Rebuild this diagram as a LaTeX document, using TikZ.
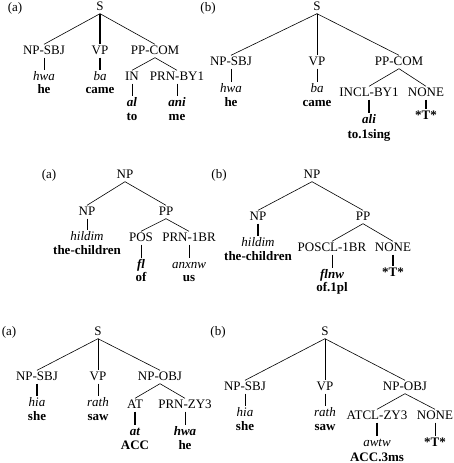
\documentclass[tikz,border=0pt]{standalone}
\usepackage{fontspec}
\setmainfont{Liberation Serif}
\usepackage{tikz}

\newcommand{\treefont}{\fontsize{13}{15}\selectfont}

\tikzset{
  cat/.style={inner sep=1pt, text height=8.5pt, text depth=2.5pt, font=\treefont},
  gl/.style={cat, font=\treefont\itshape},
  glb/.style={cat, font=\treefont\bfseries\itshape},
  tr/.style={cat, font=\treefont\bfseries},
  br/.style={line width=0.6pt},
  brthick/.style={line width=1.5pt}
}

\begin{document}
\begin{tikzpicture}[x=1pt,y=-1pt]
\useasboundingbox (0,0) rectangle (453,463);

% Tree 1 (a)
\node[cat] (aalab) at (15,8) {(a)};
\node[cat] (aas) at (100,7) {S};
\node[cat] (aasbj) at (44,51) {NP-SBJ};
\node[cat] (aavp) at (100,51) {VP};
\node[cat] (aapp) at (155,51) {PP-COM};
\node[gl] (aag1) at (44,77) {hwa};
\node[tr] (aat1) at (44,90) {he};
\node[gl] (aag2) at (100,77) {ba};
\node[tr] (aat2) at (100,90) {came};
\node[cat] (aain) at (132,77) {IN};
\node[cat] (aaprn) at (177,77) {PRN-BY1};
\node[glb] (aag3) at (132,103) {al};
\node[tr] (aat3) at (132,117) {to};
\node[glb] (aag4) at (177,103) {ani};
\node[tr] (aat4) at (177,117) {me};

\draw[br] (aas.south) -- (aasbj.north);
\draw[brthick] (aas.south) -- (aavp.north);
\draw[br] (aas.south) -- (aapp.north);
\draw[br] (aasbj) -- (aag1);
\draw[brthick] (aavp) -- (aag2);
\draw[br] (aapp.south) -- (aain.north);
\draw[br] (aapp.south) -- (aaprn.north);
\draw[br] (aain) -- (aag3);
\draw[br] (aaprn) -- (aag4);

% Tree 1 (b)
\node[cat] (ablab) at (208,8) {(b)};
\node[cat] (abs) at (317,7) {S};
\node[cat] (absbj) at (231,62) {NP-SBJ};
\node[cat] (abvp) at (317,62) {VP};
\node[cat] (abpp) at (399,62) {PP-COM};
\node[gl] (abg1) at (231,89) {hwa};
\node[tr] (abt1) at (231,103) {he};
\node[gl] (abg2) at (317,89) {ba};
\node[tr] (abt2) at (317,103) {came};
\node[cat] (abincl) at (369,93) {INCL-BY1};
\node[cat] (abnone) at (426,93) {NONE};
\node[glb] (abg3) at (369,120) {ali};
\node[tr] (abt3) at (369,135) {to.1sing};
\node[tr] (abtr) at (426,116) {*T*};

\draw[br] (abs.south) -- (absbj.north);
\draw[br] (abs.south) -- (abvp.north);
\draw[br] (abs.south) -- (abpp.north);
\draw[br] (absbj) -- (abg1);
\draw[br] (abvp) -- (abg2);
\draw[br] (abpp.south) -- (abincl.north);
\draw[br] (abpp.south) -- (abnone.north);
\draw[brthick] (abincl) -- (abg3);
\draw[brthick] (abnone) -- (abtr);

% Tree 2 (a)
\node[cat] (balab) at (49,175) {(a)};
\node[cat] (banp) at (125,175) {NP};
\node[cat] (banp2) at (87,212) {NP};
\node[cat] (bapp) at (166,212) {PP};
\node[gl] (bag1) at (87,237) {hildim};
\node[tr] (bat1) at (87,251) {the-children};
\node[cat] (bapos) at (141,238) {POS};
\node[cat] (baprn) at (189,238) {PRN-1BR};
\node[glb] (bag2) at (141,265) {fl};
\node[tr] (bat2) at (141,278) {of};
\node[gl] (bag3) at (189,265) {anxnw};
\node[tr] (bat3) at (189,278) {us};

\draw[br] (banp.south) -- (banp2.north);
\draw[br] (banp.south) -- (bapp.north);
\draw[br] (banp2) -- (bag1);
\draw[br] (bapp.south) -- (bapos.north);
\draw[br] (bapp.south) -- (baprn.north);
\draw[br] (bapos) -- (bag2);
\draw[br] (baprn) -- (bag3);

% Tree 2 (b)
\node[cat] (bblab) at (219,175) {(b)};
\node[cat] (bbnp) at (312,175) {NP};
\node[cat] (bbnp2) at (258,217) {NP};
\node[cat] (bbpp) at (363,217) {PP};
\node[gl] (bbg1) at (258,243) {hildim};
\node[tr] (bbt1) at (258,257) {the-children};
\node[cat] (bbpos) at (332,248) {POSCL-1BR};
\node[cat] (bbnone) at (393,248) {NONE};
\node[glb] (bbg2) at (332,275) {flnw};
\node[tr] (bbt2) at (332,288) {of.1pl};
\node[tr] (bbtr) at (393,273) {*T*};

\draw[br] (bbnp.south) -- (bbnp2.north);
\draw[br] (bbnp.south) -- (bbpp.north);
\draw[brthick] (bbnp2) -- (bbg1);
\draw[br] (bbpp.south) -- (bbpos.north);
\draw[br] (bbpp.south) -- (bbnone.north);
\draw[br] (bbpos) -- (bbg2);
\draw[brthick] (bbnone) -- (bbtr);

% Tree 3 (a)
\node[cat] (calab) at (9,332) {(a)};
\node[cat] (cas) at (98,332) {S};
\node[cat] (casbj) at (37,377) {NP-SBJ};
\node[cat] (cavp) at (98,377) {VP};
\node[cat] (caobj) at (160,377) {NP-OBJ};
\node[gl] (cag1) at (37,403) {hia};
\node[tr] (cat1) at (37,417) {she};
\node[gl] (cag2) at (98,403) {rath};
\node[tr] (cat2) at (98,417) {saw};
\node[cat] (caat) at (135,405) {AT};
\node[cat] (caprn) at (185,405) {PRN-ZY3};
\node[glb] (cag3) at (135,432) {at};
\node[tr] (cat3) at (135,446) {ACC};
\node[glb] (cag4) at (185,432) {hwa};
\node[tr] (cat4) at (185,446) {he};

\draw[br] (cas.south) -- (casbj.north);
\draw[br] (cas.south) -- (cavp.north);
\draw[br] (cas.south) -- (caobj.north);
\draw[brthick] (casbj) -- (cag1);
\draw[br] (cavp) -- (cag2);
\draw[br] (caobj.south) -- (caat.north);
\draw[br] (caobj.south) -- (caprn.north);
\draw[brthick] (caat) -- (cag3);
\draw[br] (caprn) -- (cag4);

% Tree 3 (b)
\node[cat] (cblab) at (218,332) {(b)};
\node[cat] (cbs) at (325,332) {S};
\node[cat] (cbsbj) at (245,387) {NP-SBJ};
\node[cat] (cbvp) at (325,387) {VP};
\node[cat] (cbobj) at (405,387) {NP-OBJ};
\node[gl] (cbg1) at (245,413) {hia};
\node[tr] (cbt1) at (245,427) {she};
\node[gl] (cbg2) at (325,413) {rath};
\node[tr] (cbt2) at (325,427) {saw};
\node[cat] (cbatcl) at (377,416) {ATCL-ZY3};
\node[cat] (cbnone) at (435,416) {NONE};
\node[gl] (cbg3) at (377,443) {awtw};
\node[tr] (cbt3) at (377,458) {ACC.3ms};
\node[tr] (cbtr) at (435,443) {*T*};

\draw[br] (cbs.south) -- (cbsbj.north);
\draw[br] (cbs.south) -- (cbvp.north);
\draw[br] (cbs.south) -- (cbobj.north);
\draw[br] (cbsbj) -- (cbg1);
\draw[br] (cbvp) -- (cbg2);
\draw[br] (cbobj.south) -- (cbatcl.north);
\draw[br] (cbobj.south) -- (cbnone.north);
\draw[brthick] (cbatcl) -- (cbg3);
\draw[br] (cbnone) -- (cbtr);

\end{tikzpicture}
\end{document}
